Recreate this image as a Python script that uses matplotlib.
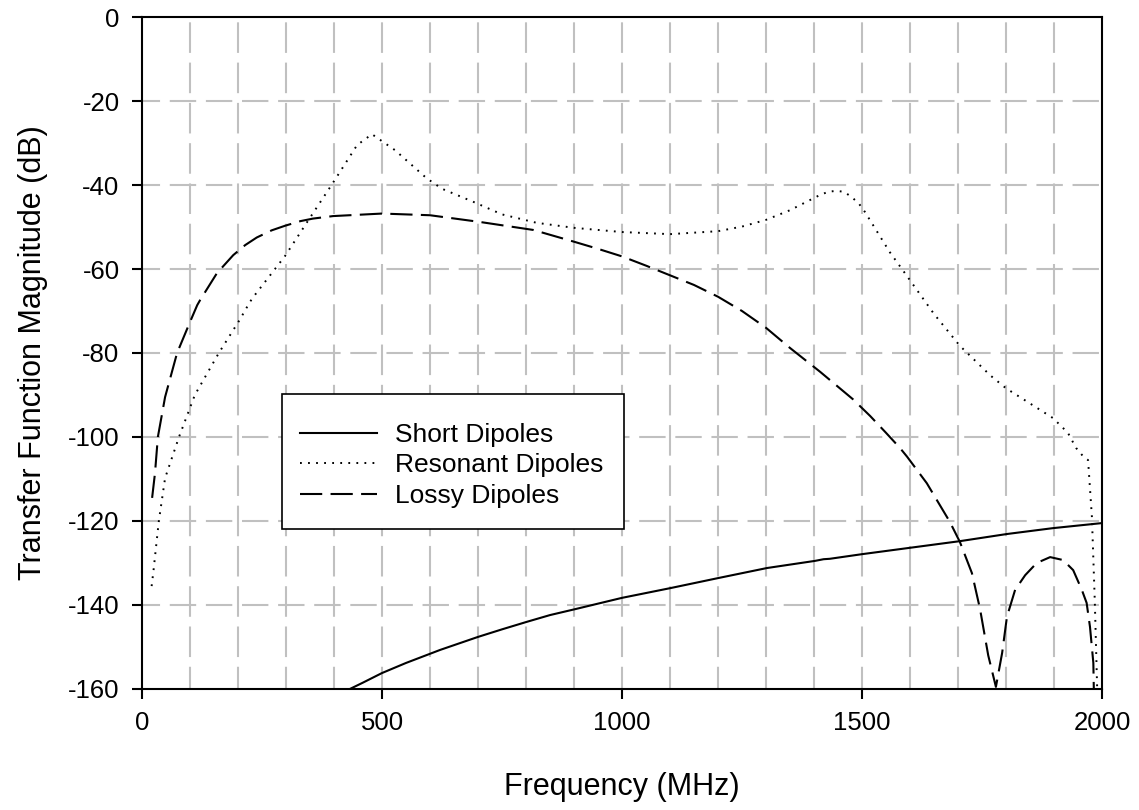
import numpy as np
import matplotlib
matplotlib.use('Agg')
import matplotlib.pyplot as plt
from matplotlib.patches import Rectangle

plt.rcParams['font.family'] = ['Liberation Sans', 'DejaVu Sans']
plt.rcParams['axes.unicode_minus'] = False
plt.rcParams['lines.scale_dashes'] = False

# --- 데이터 ---
short_f = [433, 460, 500, 550, 621, 700, 750, 802, 850, 902, 1000, 1100, 1200, 1302,
           1402, 1420, 1433, 1500, 1579, 1704, 1802, 1898, 2000]
short_db = [-160, -158.5, -156.2, -153.8, -150.7, -147.6, -145.8, -144, -142.4, -141,
            -138.3, -136, -133.6, -131.2, -129.5, -129.1, -129, -127.9, -126.7,
            -124.8, -123.1, -121.7, -120.5]

res_f = [20, 24, 35, 48, 77, 110, 160, 204, 225, 235, 298, 343, 396, 448, 479, 527,
         593, 625, 690, 750, 822, 900, 1000, 1100, 1200, 1250, 1300, 1350, 1412, 1430,
         1446, 1462, 1478, 1494, 1506, 1558, 1592, 1650, 1704, 1767, 1800, 1865, 1898,
         1929, 1946, 1960, 1971, 1979, 1985, 1990]
res_db = [-135.5, -131.7, -120, -109.8, -100, -90, -80, -72, -67.8, -66.2, -56.9, -49,
          -39.8, -30.5, -27.9, -31.7, -38.4, -40.9, -44, -47, -49, -50.2, -51.2,
          -51.7, -51, -49.9, -48.3, -46, -42.4, -41.6, -41.4, -41.6, -42.8, -44.5,
          -46.4, -56, -61.4, -70.7, -78.3, -85.3, -88.4, -93.1, -95.5, -99, -102.6,
          -104.5, -105.5, -119, -139, -160]

lossy_f = [21, 27, 33, 48, 73, 100, 115, 121, 156, 190, 215, 239, 270, 298, 330, 356,
           398, 500, 600, 704, 815, 900, 950, 1000, 1050, 1100, 1150, 1200, 1250, 1300,
           1350, 1413, 1481, 1517, 1550, 1579, 1594, 1635, 1683, 1704, 1729, 1746,
           1763, 1779, 1792, 1802, 1819, 1840, 1864, 1892, 1919, 1940, 1958, 1968,
           1975, 1982, 1983]
lossy_db = [-114.5, -108.6, -100, -90.5, -80, -72.6, -68.6, -67.4, -61, -56.7, -54.3,
            -52.5, -50.8, -49.7, -48.6, -48.0, -47.4, -46.8, -47.2, -48.8, -50.7, -53.5,
            -55.2, -57, -59.2, -61.5, -63.8, -66.6, -70, -74, -78.8, -84.5, -91, -95,
            -99, -102.6, -104.7, -111, -120.2, -125, -132.4, -141, -152, -159.5,
            -151.4, -142.8, -136.4, -132.9, -130, -128.6, -129.3, -131.7, -136.4,
            -139.5, -145.2, -153.8, -160]

x_ticks = [0, 500, 1000, 1500, 2000]
y_ticks = [0, -20, -40, -60, -80, -100, -120, -140, -160]

# --- 그림 ---
fig = plt.figure(figsize=(11.39, 8.10), dpi=100)
ax = fig.add_axes([0.1247, 0.1494, 0.8428, 0.8296])

# 격자: 세로 100 MHz, 가로 20 dB
grid_kw = dict(color='#c0c0c0', linewidth=1.5, zorder=0)
for gx in range(100, 2000, 100):
    ax.axvline(gx, linestyle=(6, (22, 7)), **grid_kw)
for gy in y_ticks[1:-1]:
    ax.axhline(gy, linestyle=(6, (19, 7)), **grid_kw)

ax.plot(short_f, short_db, color='black', linewidth=1.5, label='Short Dipoles')
ax.plot(res_f, res_db, color='black', linewidth=1.4, linestyle=(0, (1.3, 4.5)),
        label='Resonant Dipoles')
ax.plot(lossy_f, lossy_db, color='black', linewidth=1.5, linestyle=(0, (16, 6)),
        label='Lossy Dipoles')

ax.set_xlim(0, 2000)
ax.set_ylim(-160, 0)
ax.set_xticks(x_ticks)
ax.set_yticks(y_ticks)
ax.tick_params(direction='out', length=7.2, width=1.5, labelsize=18.5, pad=9)
for s in ax.spines.values():
    s.set_linewidth(1.5)

ax.set_xlabel('Frequency (MHz)', fontsize=22, labelpad=26)
ax.set_ylabel('Transfer Function Magnitude (dB)', fontsize=22, labelpad=14)

# 범례 테두리는 직접 그림
ax.add_patch(Rectangle((0.1458, 0.2381), 0.3563, 0.2009, transform=ax.transAxes,
                       facecolor='white', edgecolor='black', linewidth=1.2, zorder=4))
leg = ax.legend(loc='upper left', bbox_to_anchor=(0.1646, 0.396), borderaxespad=0,
                fontsize=19, handlelength=2.9, handletextpad=0.7, labelspacing=0.25,
                borderpad=0, frameon=False)
leg.set_zorder(5)

fig.savefig('out.png', dpi=100)
